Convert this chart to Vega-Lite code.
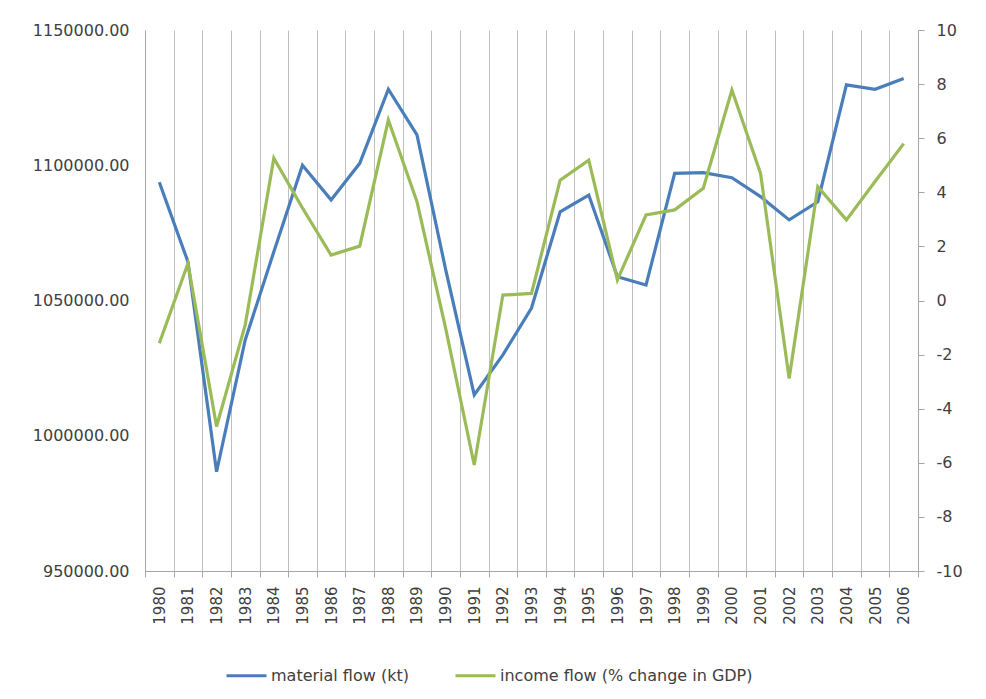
{
  "$schema": "https://vega.github.io/schema/vega-lite/v6.json",
  "width": 773,
  "height": 541,
  "autosize": {"type": "none"},
  "padding": {"left": 145, "top": 30, "right": 68, "bottom": 128},
  "background": "white",
  "config": {
    "view": {"stroke": null},
    "font": "DejaVu Sans",
    "axis": {"labelFont": "DejaVu Sans", "labelColor": "#404040", "domainColor": "#a6a6a6", "tickColor": "#a6a6a6", "gridColor": "#c0c0c0"},
    "legend": {"labelFont": "DejaVu Sans", "labelColor": "#404040"}
  },
  "data": {
    "values": [
      {"year": "1980", "material": 1093700, "income": -1.58},
      {"year": "1981", "material": 1064300, "income": 1.37},
      {"year": "1982", "material": 986700, "income": -4.66},
      {"year": "1983", "material": 1035400, "income": -0.9},
      {"year": "1984", "material": 1068000, "income": 5.26},
      {"year": "1985", "material": 1100000, "income": 3.42},
      {"year": "1986", "material": 1087200, "income": 1.68},
      {"year": "1987", "material": 1100700, "income": 2.01},
      {"year": "1988", "material": 1128100, "income": 6.67},
      {"year": "1989", "material": 1111200, "income": 3.65},
      {"year": "1990", "material": 1061500, "income": -1.02},
      {"year": "1991", "material": 1015100, "income": -6.08},
      {"year": "1992", "material": 1029900, "income": 0.2},
      {"year": "1993", "material": 1047200, "income": 0.26},
      {"year": "1994", "material": 1082800, "income": 4.45},
      {"year": "1995", "material": 1089000, "income": 5.19},
      {"year": "1996", "material": 1058800, "income": 0.76},
      {"year": "1997", "material": 1055700, "income": 3.16},
      {"year": "1998", "material": 1097000, "income": 3.35},
      {"year": "1999", "material": 1097300, "income": 4.15},
      {"year": "2000", "material": 1095400, "income": 7.78},
      {"year": "2001", "material": 1088400, "income": 4.7},
      {"year": "2002", "material": 1079800, "income": -2.88},
      {"year": "2003", "material": 1086500, "income": 4.21},
      {"year": "2004", "material": 1129700, "income": 2.98},
      {"year": "2005", "material": 1128100, "income": 4.4},
      {"year": "2006", "material": 1132100, "income": 5.8}
    ]
  },
  "encoding": {
    "x": {
      "field": "year",
      "type": "ordinal",
      "bandPosition": 0.5,
      "scale": {"type": "band", "paddingInner": 0, "paddingOuter": 0},
      "axis": {
        "title": null,
        "labelAngle": -90,
        "labelFontSize": 15,
        "labelPadding": 9,
        "tickBand": "extent",
        "grid": true,
        "ticks": true,
        "tickSize": 6,
        "domainColor": "#a6a6a6"
      }
    },
    "color": {
      "scale": {
        "domain": ["material flow (kt)", "income flow (% change in GDP)"],
        "range": ["#4a7ebb", "#9bbb59"]
      },
      "legend": {
        "title": null,
        "orient": "none",
        "legendX": 80,
        "legendY": 624,
        "direction": "horizontal",
        "symbolType": "stroke",
        "symbolSize": 1600,
        "symbolStrokeWidth": 3,
        "labelFontSize": 16,
        "labelLimit": 400,
        "labelOffset": 3,
        "columnPadding": 40
      }
    }
  },
  "layer": [
    {
      "mark": {"type": "line", "strokeWidth": 3.2, "strokeJoin": "miter"},
      "encoding": {
        "y": {
          "field": "material",
          "type": "quantitative",
          "scale": {"domain": [950000, 1150000], "nice": false, "zero": false},
          "axis": {
            "title": null,
            "orient": "left",
            "values": [950000, 1000000, 1050000, 1100000, 1150000],
            "format": ".2f",
            "labelFontSize": 16,
            "ticks": false,
            "labelPadding": 16,
            "grid": false
          }
        },
        "color": {"datum": "material flow (kt)"}
      }
    },
    {
      "mark": {"type": "line", "strokeWidth": 3.2, "strokeJoin": "miter"},
      "encoding": {
        "y": {
          "field": "income",
          "type": "quantitative",
          "scale": {"domain": [-10, 10], "nice": false},
          "axis": {
            "title": null,
            "orient": "right",
            "values": [-10, -8, -6, -4, -2, 0, 2, 4, 6, 8, 10],
            "labelExpr": "'' + datum.value",
            "labelFontSize": 16,
            "ticks": true,
            "tickSize": 6,
            "labelPadding": 12,
            "grid": false
          }
        },
        "color": {"datum": "income flow (% change in GDP)"}
      }
    }
  ],
  "resolve": {"scale": {"y": "independent"}}
}
